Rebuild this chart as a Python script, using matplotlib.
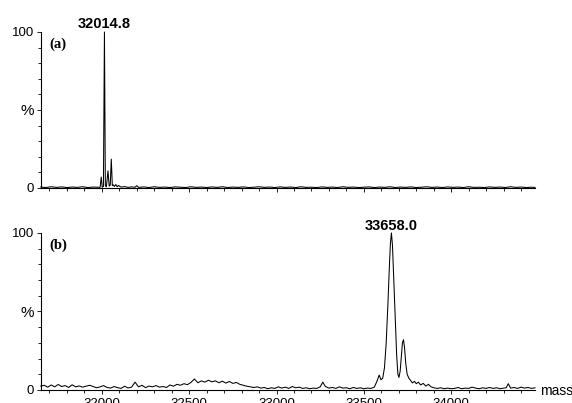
''' two deconvoluted mass spectra, (a) and (b) '''
import matplotlib
matplotlib.use('Agg')
import matplotlib.pyplot as plt
from matplotlib.ticker import MultipleLocator, FixedLocator
from matplotlib.transforms import blended_transform_factory

plt.rcParams['font.family'] = ['Liberation Sans', 'DejaVu Sans']

# spectrum (a)
mass_a = [31650, 31680, 31710, 31740, 31770, 31800, 31830, 31860, 31890, 31920,
          31950, 31975, 31990, 31996.5, 32002, 32009, 32014.8, 32020, 32026, 32035,
          32042, 32048, 32054, 32060, 32066, 32072, 32080, 32088, 32095, 32110,
          32130, 32150, 32170, 32190, 32200, 32210, 32240, 32270, 32300, 32330,
          32360, 32390, 32420, 32450, 32480, 32510, 32540, 32570, 32600, 32630,
          32660, 32690, 32720, 32750, 32780, 32810, 32840, 32870, 32900, 32930,
          32960, 32990, 33020, 33050, 33080, 33110, 33140, 33170, 33200, 33230,
          33260, 33290, 33320, 33350, 33380, 33410, 33440, 33470, 33500, 33530,
          33560, 33590, 33620, 33650, 33680, 33710, 33740, 33770, 33800, 33830,
          33860, 33890, 33920, 33950, 33980, 34010, 34040, 34070, 34100, 34130,
          34160, 34190, 34220, 34250, 34280, 34310, 34340, 34370, 34400, 34430,
          34460, 34480]
int_a = [0.6, 0.3, 0.8, 0.4, 0.7, 0.3, 0.6, 0.4, 0.8, 0.3,
         0.6, 0.5, 0.4, 7.0, 0.5, 1.0, 100.0, 1.5, 0.8, 11.0,
         1.2, 1.8, 18.5, 1.5, 2.0, 1.0, 2.2, 0.8, 1.6, 0.6,
         0.9, 0.4, 0.7, 0.5, 1.5, 0.4, 0.7, 0.3, 0.8, 0.4,
         0.6, 0.3, 0.7, 0.5, 0.3, 0.8, 0.4, 0.6, 0.3, 0.7,
         0.4, 0.8, 0.3, 0.6, 0.4, 0.7, 0.3, 0.5, 0.8, 0.4,
         0.6, 0.3, 0.7, 0.4, 0.6, 0.3, 0.8, 0.4, 0.5, 0.3,
         0.7, 0.4, 0.6, 0.3, 0.8, 0.4, 0.6, 0.3, 0.5, 0.7,
         0.3, 0.6, 0.4, 0.8, 0.3, 0.6, 0.4, 0.7, 0.3, 0.5,
         0.8, 0.4, 0.6, 0.3, 0.7, 0.4, 0.6, 0.3, 0.8, 0.4,
         0.5, 0.3, 0.7, 0.4, 0.6, 0.3, 0.8, 0.4, 0.6, 0.3,
         0.5, 0.4]

# spectrum (b)
mass_b = [31650, 31670, 31690, 31710, 31730, 31750, 31770, 31790, 31810, 31830,
          31850, 31870, 31890, 31910, 31930, 31950, 31970, 31990, 32010, 32030,
          32050, 32070, 32090, 32110, 32130, 32150, 32170, 32190, 32210, 32230,
          32250, 32270, 32290, 32310, 32330, 32350, 32370, 32390, 32410, 32430,
          32450, 32470, 32490, 32510, 32530, 32550, 32570, 32590, 32610, 32630,
          32650, 32670, 32690, 32710, 32730, 32750, 32770, 32790, 32810, 32830,
          32850, 32870, 32890, 32910, 32930, 32950, 32970, 32990, 33010, 33030,
          33050, 33070, 33090, 33110, 33130, 33150, 33170, 33190, 33210, 33230,
          33250, 33265, 33280, 33300, 33320, 33340, 33360, 33380, 33400, 33420,
          33440, 33460, 33480, 33500, 33520, 33540, 33560, 33575, 33588, 33598,
          33608, 33618, 33628, 33638, 33646, 33652, 33658, 33664, 33671, 33680,
          33688, 33695, 33701, 33708, 33715, 33721, 33727, 33733, 33740, 33748,
          33758, 33768, 33778, 33790, 33800, 33812, 33825, 33840, 33855, 33870,
          33885, 33900, 33920, 33940, 33960, 33980, 34000, 34020, 34040, 34060,
          34080, 34100, 34120, 34140, 34160, 34180, 34200, 34220, 34240, 34260,
          34280, 34300, 34315, 34327, 34340, 34360, 34380, 34400, 34420, 34440,
          34460, 34480]
int_b = [2.5, 3.0, 1.8, 3.2, 2.0, 3.5, 2.2, 2.8, 1.6, 3.3,
         2.0, 2.6, 1.8, 2.4, 3.0, 2.2, 1.4, 2.0, 2.8, 1.6,
         1.2, 2.2, 1.5, 1.0, 2.4, 1.3, 1.8, 5.0, 2.0, 3.0,
         1.5, 2.5, 2.0, 2.8, 1.8, 2.2, 1.6, 3.2, 2.4, 3.6,
         3.0, 4.0, 3.4, 4.8, 7.0, 4.6, 5.8, 5.0, 6.2, 5.2,
         5.8, 4.6, 5.6, 4.4, 5.4, 4.2, 4.8, 3.6, 3.0, 2.4,
         2.0, 1.6, 2.0, 1.2, 1.6, 0.8, 1.4, 1.0, 2.0, 1.2,
         1.8, 1.0, 2.2, 1.4, 1.8, 1.0, 1.4, 0.8, 1.2, 1.0,
         2.0, 5.0, 2.2, 1.2, 1.6, 1.0, 2.0, 1.2, 1.4, 0.8,
         1.6, 1.0, 1.4, 0.8, 1.2, 1.0, 1.8, 5.5, 9.5, 6.5,
         7.5, 14.0, 30.0, 55.0, 78.0, 93.0, 100.0, 92.0, 72.0, 45.0,
         22.0, 10.0, 8.0, 12.0, 22.0, 30.0, 32.0, 27.0, 17.0, 10.0,
         7.5, 6.0, 4.5, 5.5, 4.0, 5.0, 3.2, 4.2, 2.5, 3.6,
         2.0, 1.4, 1.0, 1.4, 0.8, 1.2, 0.8, 1.0, 1.6, 0.8,
         1.2, 1.0, 1.8, 1.2, 0.8, 1.4, 1.0, 1.6, 1.0, 1.4,
         0.8, 1.2, 1.4, 4.0, 1.2, 1.6, 1.0, 1.8, 1.2, 1.6,
         1.0, 1.4]

peak_a = 32014.8
peak_b = 33658.0
x_ticks = [32000, 32500, 33000, 33500, 34000]

fig = plt.figure(figsize=(5.72, 4.03), dpi=100)
ax_a = fig.add_axes([0.0712, 0.5335, 0.8641, 0.3871])
ax_b = fig.add_axes([0.0712, 0.0323, 0.8641, 0.3896])

for ax, m, y, tag in [(ax_a, mass_a, int_a, '(a)'), (ax_b, mass_b, int_b, '(b)')]:
    ax.plot(m, y, color='black', linewidth=0.75, clip_on=False)
    ax.set_xlim(31650, 34480)
    ax.set_ylim(0, 100)
    ax.spines['top'].set_visible(False)
    ax.spines['right'].set_visible(False)
    ax.spines['left'].set_linewidth(0.8)
    ax.spines['bottom'].set_linewidth(0.8)
    ax.set_yticks([0, 50, 100])
    ax.set_yticklabels(['0', '%', '100'], fontsize=9.5)
    ax.get_yticklabels()[1].set_fontsize(11)
    ax.yaxis.set_minor_locator(MultipleLocator(10))
    ax.xaxis.set_major_locator(FixedLocator(x_ticks))
    ax.xaxis.set_minor_locator(MultipleLocator(100))
    ax.tick_params(axis='both', which='major', direction='out', length=3, width=0.6, pad=2)
    ax.tick_params(axis='both', which='minor', direction='out', length=2, width=0.6)
    ax.text(0.017, 0.90, tag, transform=ax.transAxes, fontsize=10.5,
            fontweight='bold', fontfamily='Liberation Serif')

ax_a.set_xticklabels([])
ax_b.set_xticklabels([str(t) for t in x_ticks], fontsize=9.5)
ax_b.tick_params(axis='x', which='major', pad=3)

ax_a.text(peak_a, 102.3, '%.1f' % peak_a, ha='center', va='baseline',
          fontsize=10.5, fontweight='bold')
ax_b.text(peak_b, 102.0, '%.1f' % peak_b, ha='center', va='baseline',
          fontsize=10.5, fontweight='bold')

tr = blended_transform_factory(ax_b.transAxes, ax_b.transData)
ax_b.text(1.01, -3.2, 'mass', transform=tr, ha='left', va='baseline', fontsize=10)

fig.savefig('out.png', dpi=100)
